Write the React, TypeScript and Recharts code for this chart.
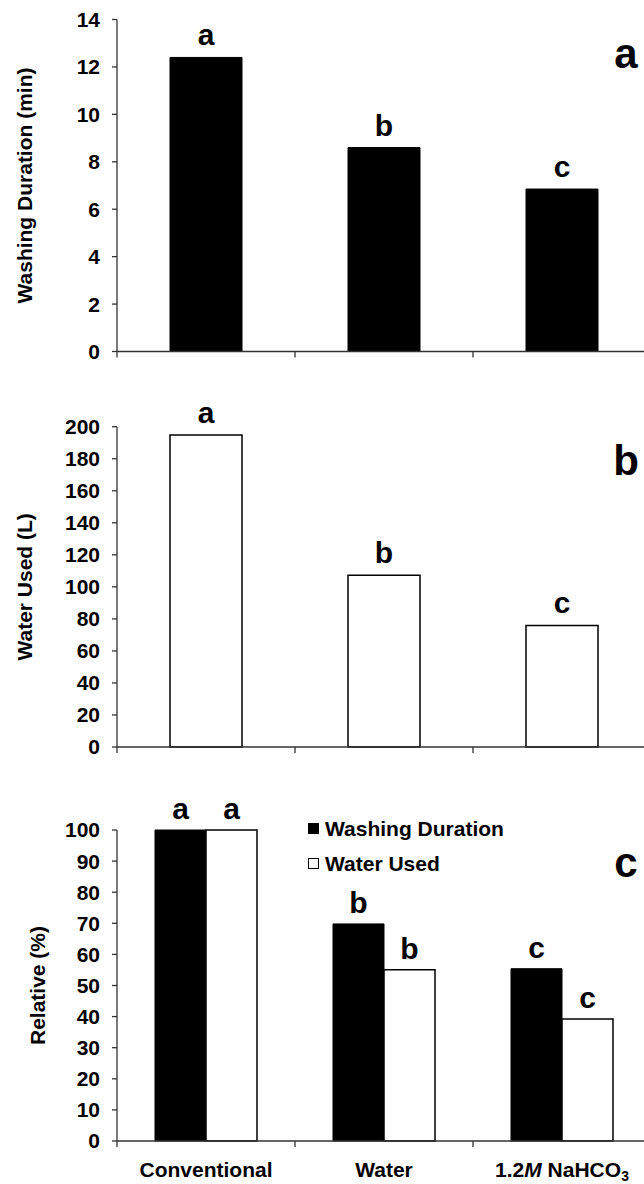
import React from 'react'
import { BarChart, Bar, XAxis, YAxis, LabelList, Legend } from 'recharts'

const categories = ['Conventional', 'Water', '1.2M NaHCO3']
const groupLetters = ['a', 'b', 'c']

const washingMin = [12.4, 8.6, 6.85]
const waterLiters = [194.8, 107.3, 75.9]
const relWashing = [100, 69.8, 55.4]
const relWater = [100, 55.1, 39.2]

const ticksA = [0, 2, 4, 6, 8, 10, 12, 14]
const ticksB = [0, 20, 40, 60, 80, 100, 120, 140, 160, 180, 200]
const ticksC = [0, 10, 20, 30, 40, 50, 60, 70, 80, 90, 100]

const FONT = "'Liberation Sans', Arial, Helvetica, sans-serif"
const AXIS = '#333'
const CHART_W = 660
const PLOT_W = 534

const dataA = categories.map((name, i) => ({ name, value: washingMin[i], sig: groupLetters[i] }))
const dataB = categories.map((name, i) => ({ name, value: waterLiters[i], sig: groupLetters[i] }))
const dataC = categories.map((name, i) => ({
  name,
  washing: relWashing[i],
  water: relWater[i],
  sig: groupLetters[i],
}))

function renderCategory(value: string) {
  // "1.2M NaHCO3" -> italic M, subscript 3
  const m = value.match(/^([\d.]+)M (\D+)(\d)$/)
  if (!m) return value
  return (
    <>
      <tspan>{m[1]}</tspan>
      <tspan fontStyle="italic">M</tspan>
      <tspan> {m[2]}</tspan>
      <tspan dy={4} fontSize={14}>{m[3]}</tspan>
    </>
  )
}

// ticks sit on category boundaries, labels in the middle of each band
function BoundaryTick(props: any) {
  const { x, y, payload, index, visibleTicksCount, width, showLabel } = props
  const band = (width || PLOT_W) / visibleTicksCount
  const left = x - band / 2
  const right = x + band / 2
  return (
    <g>
      <line x1={left} y1={y} x2={left} y2={y + 6} stroke={AXIS} strokeWidth={1.3} />
      {index === visibleTicksCount - 1 && (
        <line x1={right} y1={y} x2={right} y2={y + 6} stroke={AXIS} strokeWidth={1.3} />
      )}
      {showLabel && (
        <text
          x={x}
          y={y + 36}
          textAnchor="middle"
          fontFamily={FONT}
          fontWeight="bold"
          fontSize={21}
          fill="#000"
        >
          {renderCategory(String(payload.value))}
        </text>
      )}
    </g>
  )
}

const tickStyle = { fontSize: 21, fontWeight: 'bold', fill: '#000', fontFamily: FONT }
const letterStyle = { fontSize: 30, fontWeight: 'bold', fill: '#000', fontFamily: FONT }

function yLabel(value: string, offset: number) {
  return {
    value,
    angle: -90,
    position: 'insideLeft' as const,
    offset,
    fontWeight: 'bold',
    style: { textAnchor: 'middle', fontSize: 21, fontWeight: 'bold', fill: '#000', fontFamily: FONT },
  }
}

function renderLegend(props: any) {
  const { payload = [] } = props
  return (
    <div style={{ fontFamily: FONT, fontWeight: 'bold', fontSize: 21, color: '#000' }}>
      {payload.map((entry: any) => (
        <div key={entry.value} style={{ display: 'flex', alignItems: 'center', height: 35 }}>
          <span
            style={{
              display: 'inline-block',
              width: 11,
              height: 11,
              boxSizing: 'border-box',
              background: entry.color,
              border: '1px solid #000',
              marginRight: 6,
            }}
          />
          <span>{entry.value}</span>
        </div>
      ))}
    </div>
  )
}

const yAxisCommon = {
  type: 'number' as const,
  width: 117,
  tickSize: 5,
  tickMargin: 12,
  interval: 0 as const,
  tick: tickStyle,
  axisLine: { stroke: AXIS, strokeWidth: 1.3 },
  tickLine: { stroke: AXIS, strokeWidth: 1.3 },
}

export default function App() {
  return (
    <div
      style={{
        position: 'absolute',
        left: 0,
        top: 0,
        width: 644,
        height: 1184,
        overflow: 'hidden',
        background: '#fff',
        fontFamily: FONT,
        fontWeight: 'bold',
      }}
    >
      <style>{`.recharts-text, .recharts-label { font-weight: bold !important; font-family: ${FONT}; }`}</style>

      {/* a: washing duration */}
      <div style={{ position: 'absolute', left: 0, top: 0 }}>
        <BarChart width={CHART_W} height={380} data={dataA} margin={{ top: 19.5, right: 9, left: 0, bottom: 0 }}>
          <XAxis
            dataKey="name"
            height={28.5}
            interval={0}
            tickSize={0}
            tickMargin={0}
            tickLine={false}
            axisLine={{ stroke: AXIS, strokeWidth: 1.3 }}
            tick={(p: any) => <BoundaryTick {...p} />}
          />
          <YAxis {...yAxisCommon} domain={[0, 14]} ticks={ticksA} label={yLabel('Washing Duration (min)', 25)} />
          <Bar dataKey="value" fill="#000" stroke="#000" barSize={72} isAnimationActive={false}>
            <LabelList dataKey="sig" position="top" offset={12} {...letterStyle} />
          </Bar>
        </BarChart>
      </div>

      {/* b: water used */}
      <div style={{ position: 'absolute', left: 0, top: 380 }}>
        <BarChart width={CHART_W} height={380} data={dataB} margin={{ top: 46.7, right: 9, left: 0, bottom: 0 }}>
          <XAxis
            dataKey="name"
            height={13}
            interval={0}
            tickSize={0}
            tickMargin={0}
            tickLine={false}
            axisLine={{ stroke: AXIS, strokeWidth: 1.3 }}
            tick={(p: any) => <BoundaryTick {...p} />}
          />
          <YAxis {...yAxisCommon} domain={[0, 200]} ticks={ticksB} label={yLabel('Water Used (L)', 25)} />
          <Bar dataKey="value" fill="#fff" stroke="#000" strokeWidth={1.5} barSize={72} isAnimationActive={false}>
            <LabelList dataKey="sig" position="top" offset={12} {...letterStyle} />
          </Bar>
        </BarChart>
      </div>

      {/* c: relative */}
      <div style={{ position: 'absolute', left: 0, top: 760 }}>
        <BarChart
          width={CHART_W}
          height={424}
          data={dataC}
          barGap={0}
          margin={{ top: 70, right: 9, left: 0, bottom: 0 }}
        >
          <XAxis
            dataKey="name"
            height={43}
            interval={0}
            tickSize={0}
            tickMargin={0}
            tickLine={false}
            axisLine={{ stroke: AXIS, strokeWidth: 1.3 }}
            tick={(p: any) => <BoundaryTick {...p} showLabel />}
          />
          <YAxis {...yAxisCommon} domain={[0, 100]} ticks={ticksC} label={yLabel('Relative (%)', 38)} />
          <Legend
            content={renderLegend}
            layout="horizontal"
            verticalAlign="middle"
            align="center"
            wrapperStyle={{ top: 51, left: 308, width: 260 }}
          />
          <Bar
            dataKey="washing"
            name="Washing Duration"
            fill="#000"
            stroke="#000"
            barSize={51}
            isAnimationActive={false}
          >
            <LabelList dataKey="sig" position="top" offset={11} {...letterStyle} />
          </Bar>
          <Bar
            dataKey="water"
            name="Water Used"
            fill="#fff"
            stroke="#000"
            strokeWidth={1.5}
            barSize={51}
            isAnimationActive={false}
          >
            <LabelList dataKey="sig" position="top" offset={11} {...letterStyle} />
          </Bar>
        </BarChart>
      </div>

      {/* panel letters */}
      <svg
        width={644}
        height={1184}
        style={{ position: 'absolute', left: 0, top: 0, pointerEvents: 'none' }}
      >
        <g fontFamily={FONT} fontWeight="bold" fontSize={42} fill="#000" textAnchor="middle">
          <text x={626} y={68}>a</text>
          <text x={626} y={475}>b</text>
          <text x={626} y={877}>c</text>
        </g>
      </svg>
    </div>
  )
}
